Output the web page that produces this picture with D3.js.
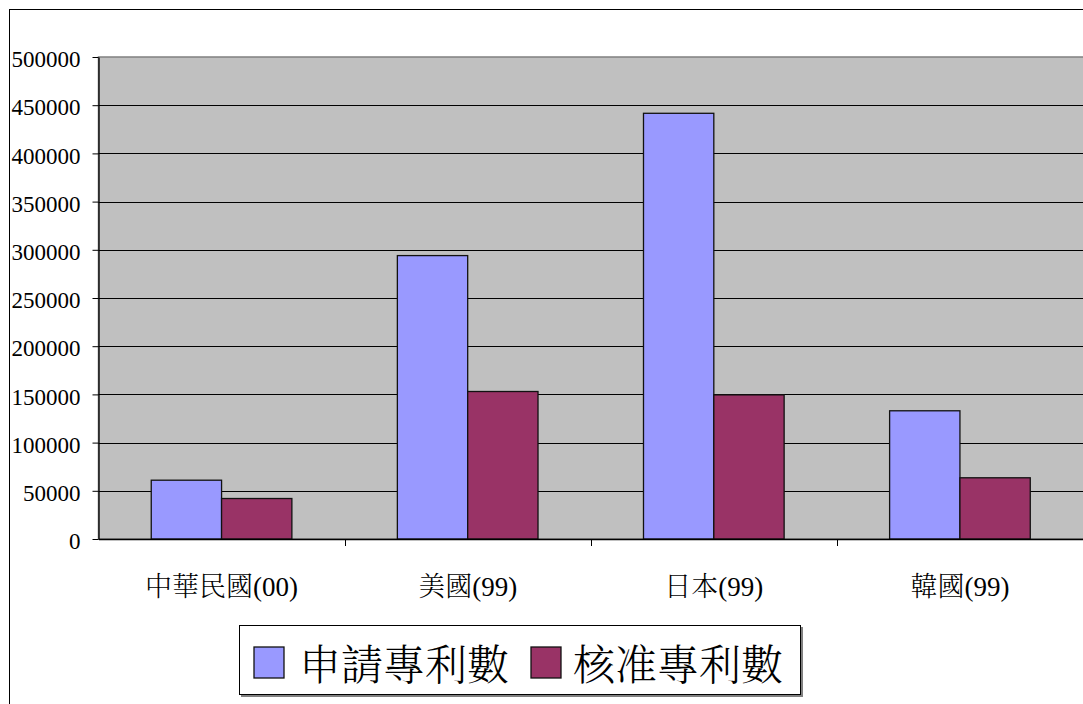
<!DOCTYPE html>
<html><head><meta charset="utf-8">
<script src="https://cdn.jsdelivr.net/npm/d3@7"></script>
<style>html,body{margin:0;padding:0;background:#fff;overflow:hidden}</style>
</head><body>
<svg id="c" width="1083" height="704"></svg>
<script>
const categories = ["中華民國(00)", "美國(99)", "日本(99)", "韓國(99)"];
const seriesNames = ["申請專利數", "核准專利數"];
const applied = [61000, 294000, 441600, 133000];
const granted = [42000, 153000, 149500, 63500];
const yTicks = [0, 50000, 100000, 150000, 200000, 250000, 300000, 350000, 400000, 450000, 500000];
const colors = ["#9999FF", "#993366"];

(function () {
const svg = d3.select("#c");
const serif = "Liberation Serif, Noto Serif CJK TC, Noto Sans CJK TC, serif";
const pL = 98.5, pR = 1083, pT = 57, pB = 539;

// outer frame
svg.append("rect").attr("x", 9.5).attr("y", 9.5).attr("width", 1100).attr("height", 720)
  .attr("fill", "#fff").attr("stroke", "#000").attr("stroke-width", 1);

const x = d3.scaleBand().domain(categories).range([pL, pR]).paddingInner(0).paddingOuter(0);
const y = d3.scaleLinear().domain([0, 500000]).range([pB, pT]);

// plot area
svg.append("rect").attr("x", pL).attr("y", pT).attr("width", pR - pL + 5).attr("height", pB - pT)
  .attr("fill", "#C0C0C0").attr("stroke", "#808080").attr("stroke-width", 1.5);

// gridlines
svg.append("g").selectAll("line").data(yTicks.filter(t => t > 0 && t < 500000)).join("line")
  .attr("x1", pL).attr("x2", pR + 5)
  .attr("y1", d => Math.round(y(d)) + 0.5).attr("y2", d => Math.round(y(d)) + 0.5)
  .attr("stroke", "#000").attr("stroke-width", 1.2);

// bars
const xs = d3.scaleBand().domain([0, 1]).range([0, x.bandwidth()]).paddingInner(0).paddingOuter(0.75);
const data = categories.map((c, i) => ({c, vals: [applied[i], granted[i]]}));
const g = svg.append("g");
data.forEach(d => {
  d.vals.forEach((v, k) => {
    g.append("rect")
      .attr("x", x(d.c) + xs(k)).attr("width", xs.bandwidth())
      .attr("y", y(v)).attr("height", y(0) - y(v))
      .attr("fill", colors[k]).attr("stroke", "#111").attr("stroke-width", 1.3);
  });
});

// axes
const yAxis = d3.axisLeft(y).tickValues(yTicks).tickSize(6).tickSizeOuter(0).tickFormat(d3.format("d")).tickPadding(12);
const ya = svg.append("g").attr("transform", `translate(${pL},0)`).call(yAxis);
ya.attr("font-family", "Liberation Serif").attr("font-size", 23);
ya.select(".domain").attr("stroke", "#000").attr("stroke-width", 1.3);
ya.selectAll(".tick line").attr("stroke", "#000");
ya.selectAll(".tick text").style("font-family", "Liberation Serif").style("font-size", "23px").attr("fill", "#000")
  .attr("dy", "0.42em");

const xAxis = d3.axisBottom(x).tickSize(0).tickPadding(38);
const xa = svg.append("g").attr("transform", `translate(0,${pB})`).call(xAxis);
xa.attr("font-family", serif).attr("font-size", 27);
xa.select(".domain").attr("stroke", "#000").attr("stroke-width", 1.5);
xa.selectAll(".tick text").style("font-family", serif).style("font-size", "27px").style("font-weight", 300).attr("fill", "#000");
// category boundary ticks
svg.append("g").selectAll("line").data(categories.slice(1)).join("line")
  .attr("x1", d => Math.round(x(d)) + 0.5).attr("x2", d => Math.round(x(d)) + 0.5)
  .attr("y1", pB).attr("y2", pB + 7).attr("stroke", "#000");

// legend
const lg = svg.append("g");
lg.append("rect").attr("x", 241).attr("y", 627).attr("width", 562).attr("height", 70).attr("fill", "#808080");
lg.append("rect").attr("x", 239.5).attr("y", 625.5).attr("width", 561).attr("height", 69)
  .attr("fill", "#fff").attr("stroke", "#000").attr("stroke-width", 1);
const legX = [254, 531];
const legTX = [299, 573];
seriesNames.forEach((n, k) => {
  lg.append("rect").attr("x", legX[k]).attr("y", 647).attr("width", 30).attr("height", 31)
    .attr("fill", colors[k]).attr("stroke", "#111").attr("stroke-width", 1.3);
  lg.append("text").attr("x", legTX[k]).attr("y", 680).text(n)
    .style("font-family", "Noto Serif CJK TC, Noto Sans CJK TC, serif").style("font-size", "42px")
    .style("font-weight", 300).attr("fill", "#000");
});
})();
</script>
</body></html>
